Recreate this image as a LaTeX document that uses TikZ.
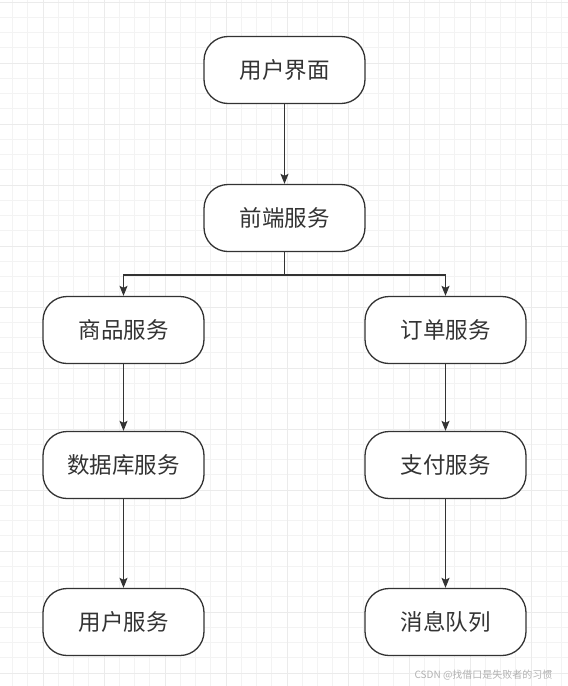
\documentclass[tikz,border=0pt]{standalone}
\usepackage{fontspec}
\setmainfont{Noto Sans CJK SC}
\usetikzlibrary{arrows.meta}
\definecolor{inkgray}{HTML}{333333}
\definecolor{gridminor}{HTML}{F3F3F3}
\definecolor{gridmajor}{HTML}{EBEBEB}

\begin{document}
\begin{tikzpicture}[x=1pt,y=-1pt,
		service/.style={draw=inkgray,line width=1.3pt,rounded corners=24pt,fill=white,
			minimum width=161pt,minimum height=67pt,inner sep=0pt,
			text=inkgray,font=\fontsize{22.5}{26}\selectfont},
		flow/.style={draw=inkgray,line width=1.3pt,-{Stealth[length=10pt,width=8pt,inset=2pt]}}]
	\useasboundingbox (0,0) rectangle (568,686);
	\fill[white] (0,0) rectangle (568,686);
	\foreach \k in {0,...,37} {
		\draw[gridminor,line width=1pt] ({-2.75+15.25*\k},0) -- ({-2.75+15.25*\k},686);
	}
	\foreach \k in {0,...,45} {
		\draw[gridminor,line width=1pt] (0,{2+15.25*\k}) -- (568,{2+15.25*\k});
	}
	\foreach \k in {0,...,9} {
		\draw[gridmajor,line width=1pt] ({43+61*\k},0) -- ({43+61*\k},686);
	}
	\foreach \k in {0,...,11} {
		\draw[gridmajor,line width=1pt] (0,{2+61*\k}) -- (568,{2+61*\k});
	}
	\node[service] (ui) at (284.5,70) {用户界面};
	\node[service] (front) at (284.5,218) {前端服务};
	\node[service] (goods) at (123.5,330) {商品服务};
	\node[service] (orders) at (445.5,330) {订单服务};
	\node[service] (db) at (123.5,465) {数据库服务};
	\node[service] (pay) at (445.5,465) {支付服务};
	\node[service] (users) at (123.5,622) {用户服务};
	\node[service] (queue) at (445.5,622) {消息队列};
	\coordinate (fork) at (284.5,275);
	\draw[flow] (ui) -- (front);
	\draw[inkgray,line width=1.3pt] (front) -- (fork);
	\draw[flow] (fork) -| (goods);
	\draw[flow] (fork) -| (orders);
	\draw[flow] (goods) -- (db);
	\draw[flow] (db) -- (users);
	\draw[flow] (orders) -- (pay);
	\draw[flow] (pay) -- (queue);
	\node[text=gray!60,font=\fontsize{10}{12}\selectfont,anchor=east] (mark) at (556,675) {CSDN @找借口是失败者的习惯};
\end{tikzpicture}
\end{document}
